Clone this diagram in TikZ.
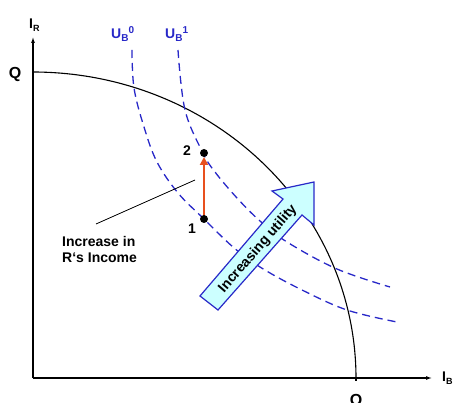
\documentclass[tikz,border=0pt]{standalone}
\usepackage{fontspec}
\setmainfont{Liberation Sans}
\usetikzlibrary{arrows.meta}
\definecolor{ublue}{RGB}{40,40,200}
\definecolor{acyan}{RGB}{204,255,255}
\definecolor{ared}{RGB}{232,80,30}
\begin{document}
\begin{tikzpicture}[x=1pt,y=-1pt,
 axis/.style={line width=1.1pt,-{Latex[length=6pt,width=4pt]}},
 ucurve/.style={ublue,line width=1.3pt,dash pattern=on 8pt off 5pt},
 ppf/.style={line width=1.1pt},
 lab/.style={font=\bfseries\fontsize{14}{16}\selectfont, inner sep=0pt},
 ulab/.style={lab, text=ublue},
 sub/.style={},
 dot/.style={circle,fill=black,inner sep=0pt,minimum size=8pt},
]
\useasboundingbox (0,0) rectangle (455,403);
\coordinate (O) at (33,378);
\coordinate (YT) at (33,37);
\coordinate (XT) at (432,378);
\draw[axis] (O) -- (YT);
\draw[axis] (O) -- (XT);
% production possibility frontier
\draw[ppf] plot[domain=0:90,samples=90] ({33+323*cos(\x)},{378-306*sin(\x)});
\coordinate (Qb) at (356,378);
\coordinate (Qbt) at (356,381);
\draw[ppf] (Qb) -- (Qbt);
% indifference curves
\draw[ucurve] plot[smooth,tension=0.6] coordinates {(132,50) (134,88) (144,127) (157,162) (178,193) (204,219) (233,247) (260,267) (300,289) (347,310) (397,322)};
\draw[ucurve] plot[smooth,tension=0.6] coordinates {(178,50) (185,110) (203,153) (215,172) (237,198) (260,221) (287,242) (337,269) (390,287)};
% big arrow
\draw[ublue, line width=1.2pt, fill=acyan, line join=miter] (200,296) -- (283,199) -- (272,191) -- (314,182) -- (314,225) -- (302,215) -- (218,310) -- cycle;
\node[lab, rotate=49] (inc) at (258,249) {Increasing utility};
% red arrow and points
\coordinate (d1c) at (204,219);
\coordinate (d2c) at (204,153);
\draw[ared, line width=2.6pt, -{Triangle[length=8pt,width=8pt]}] (d1c) -- (204,157);
\node[dot] (d1) at (d1c) {};
\node[dot] (d2) at (d2c) {};
\node[lab] (l1) at (192,229) {1};
\node[lab] (l2) at (187,151) {2};
% pointer and label
\coordinate (pa) at (195,180);
\coordinate (pb) at (96,224);
\draw[line width=0.8pt] (pa) -- (pb);
\node[lab, align=left, anchor=west] (inc2) at (62,249.5) {Increase in\\R‘s Income};
% axis labels
\node[lab, anchor=base west] (IR) at (29,29) {I\raisebox{-3pt}{\fontsize{9}{9}\selectfont R}};
\node[lab, anchor=base west] (IB) at (442,381) {I\raisebox{-3pt}{\fontsize{9}{9}\selectfont B}};
\node[lab, font=\bfseries\fontsize{16}{16}\selectfont] (Qt) at (15,74) {Q};
\node[lab, font=\bfseries\fontsize{16}{16}\selectfont] (Qbl) at (356,401) {Q};
\node[ulab, anchor=base west] (U0) at (111,39) {U\raisebox{-3pt}{\fontsize{10}{10}\selectfont B}\raisebox{5pt}{\fontsize{10}{10}\selectfont 0}};
\node[ulab, anchor=base west] (U1) at (165,39) {U\raisebox{-3pt}{\fontsize{10}{10}\selectfont B}\raisebox{5pt}{\fontsize{10}{10}\selectfont 1}};
\end{tikzpicture}
\end{document}
